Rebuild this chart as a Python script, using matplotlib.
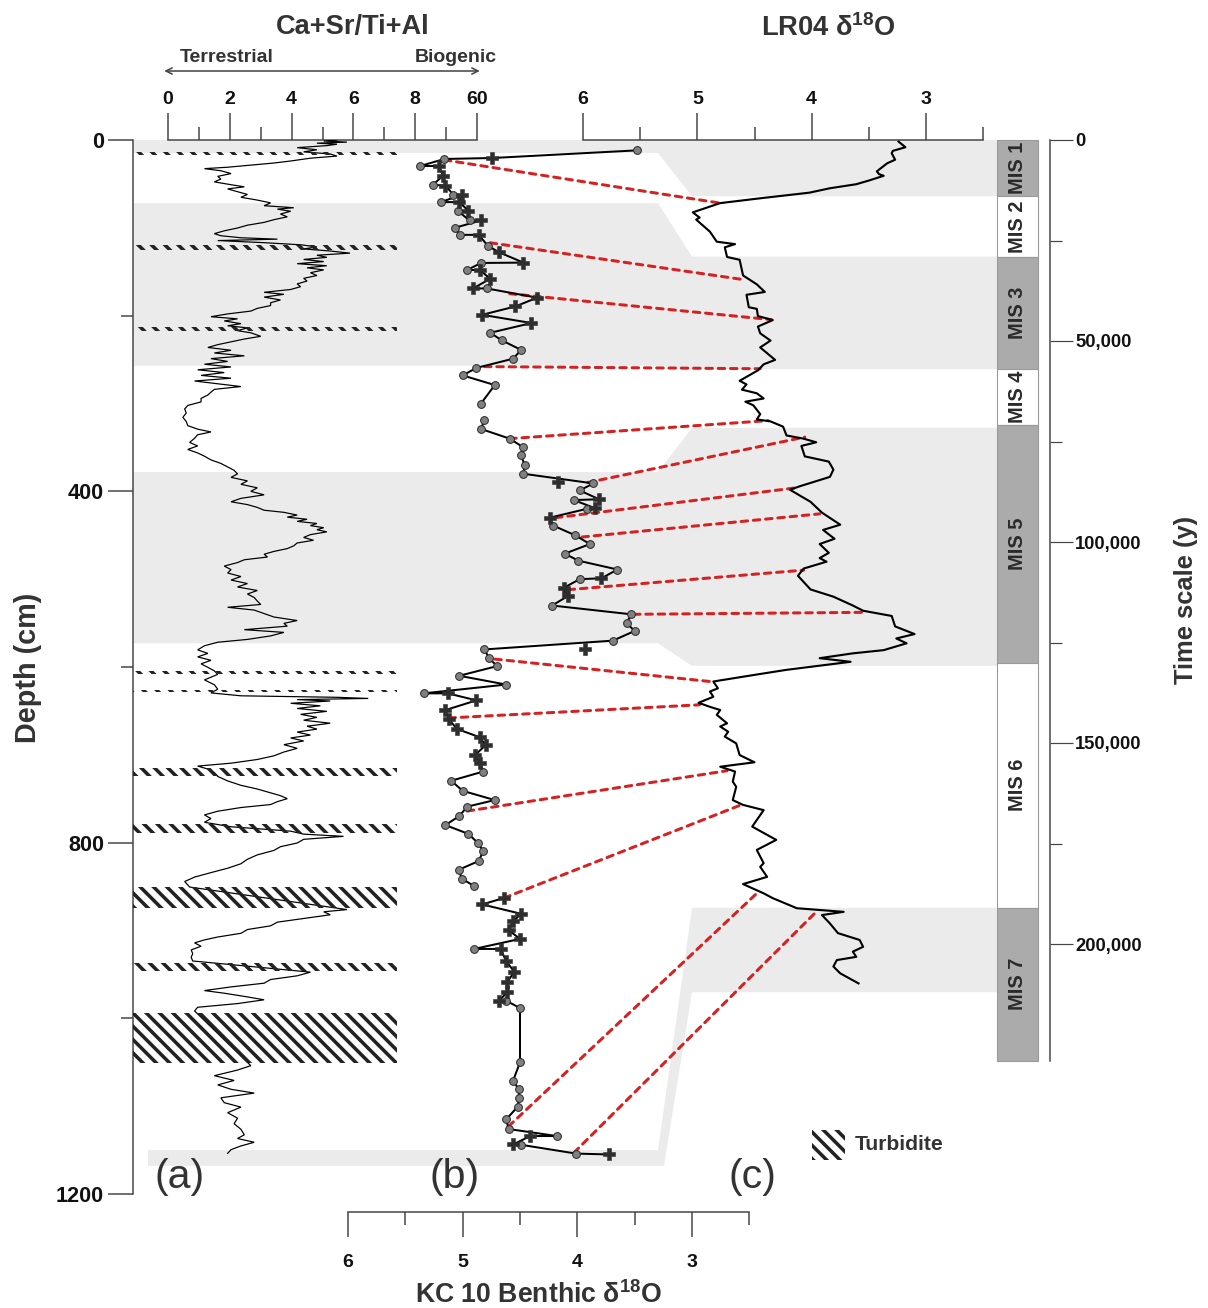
import numpy as np
import matplotlib
matplotlib.use('Agg')
import matplotlib.pyplot as plt
from matplotlib.patches import Polygon, Rectangle, ConnectionPatch, FancyArrowPatch
from matplotlib.transforms import blended_transform_factory

# ---------------- DATA ----------------
# (a) Ca+Sr/Ti+Al vs depth (cm)
ca_depth = [0, 1.2, 2.4, 3.6, 4.8, 6.4, 8.7, 11.1, 13.5, 15.9, 18.3, 20.7, 23.9, 26.2, 28.6, 31.0, 32.6,
            35.0, 38.2, 41.4, 44.5, 47.7, 50.9, 53.3, 55.7, 58.8, 62.0, 65.2, 68.4, 71.6, 74.8, 77.1, 78.7,
            81.1, 84.3, 87.5, 90.7, 93.8, 97.0, 100.2, 103.4, 106.6, 109.0, 111.3, 112.9, 114.5, 116.9,
            119.3, 121.7, 124.0, 126.4, 128.8, 131.2, 133.6, 136.0, 138.4, 140.8, 143.1, 145.5, 147.9,
            151.1, 154.3, 157.5, 160.6, 163.8, 167.0, 170.2, 173.4, 175.7, 178.9, 182.1, 185.3, 188.5,
            191.7, 194.8, 198.0, 201.2, 203.6, 206.0, 209.1, 211.5, 213.9, 217.1, 219.5, 223.5, 226.6,
            229.8, 233.0, 236.2, 239.4, 242.5, 245.7, 248.9, 252.1, 255.3, 258.4, 261.6, 264.8, 268.0,
            271.2, 274.4, 277.5, 280.7, 283.9, 287.1, 290.3, 294.2, 298.2, 302.2, 306.2, 310.9, 315.7,
            320.5, 325.2, 329.2, 332.4, 335.6, 339.6, 344.3, 348.3, 352.3, 356.3, 360.0, 364.2, 368.2,
            372.2, 376.1, 380.1, 384.1, 388.1, 392.0, 396.0, 400.0, 404.0, 408.0, 411.9, 415.1, 418.3,
            421.5, 423.9, 427.0, 429.4, 431.8, 434.2, 436.6, 439.0, 441.4, 443.7, 446.1, 449.3, 452.5,
            455.7, 458.8, 462.0, 465.2, 468.4, 471.6, 474.8, 477.9, 481.1, 485.1, 489.1, 493.0, 497.0,
            501.0, 505.0, 508.9, 512.9, 516.9, 520.9, 524.9, 528.8, 532.0, 535.2, 539.2, 543.1, 547.1,
            550.3, 553.5, 557.5, 560.6, 564.6, 568.6, 571.8, 575.8, 580.5, 584.5, 588.5, 592.4, 596.4,
            600.4, 604.4, 608.4, 614.7, 620.2, 625.3, 629.5, 632.8, 634.5, 635.8, 637.1, 638.7, 641.3,
            644.2, 647.2, 650.5, 653.9, 657.3, 660.6, 664.0, 667.4, 670.7, 674.1, 677.5, 680.8, 684.2,
            688.4, 692.6, 696.8, 701.1, 705.3, 709.5, 712.8, 716.2, 720.4, 724.6, 729.7, 734.7, 738.9,
            743.2, 746.5, 749.9, 753.3, 756.6, 760.0, 764.2, 768.4, 772.6, 776.8, 781.9, 786.9, 790.3,
            792.8, 796.2, 800.4, 804.6, 808.8, 813.9, 818.9, 824.0, 829.1, 834.1, 839.2, 844.2, 850.5,
            876.2, 878.7, 882.1, 886.3, 890.5, 894.7, 898.9, 903.2, 907.4, 910.7, 914.1, 917.9, 922.1,
            926.3, 930.5, 934.7, 947.4, 951.6, 955.8, 960.0, 964.2, 968.4, 971.4, 975.6, 978.9, 983.2,
            987.4, 991.6, 1053.9, 1058.9, 1065.3, 1070.7, 1075.8, 1080.8, 1085.1, 1090.5, 1096.0,
            1101.1, 1107.4, 1113.7, 1120.0, 1126.3, 1132.6, 1136.8, 1141.1, 1145.3, 1149.5, 1153.7]
ca_ratio = [5.47, 5.04, 5.79, 4.82, 5.47, 5.14, 4.18, 4.82, 4.39, 5.25, 5.47, 4.61, 3.97, 3.43, 2.68, 1.93, 1.18,
            1.71, 2.04, 1.61, 1.71, 1.50, 2.04, 2.47, 1.93, 2.25, 2.57, 2.36, 2.89, 3.32, 3.11, 4.07, 3.54,
            3.97, 3.64, 3.86, 3.43, 3.11, 2.57, 2.25, 1.82, 1.50, 1.71, 2.36, 3.54, 1.61, 3.11,
            4.29, 4.82, 4.39, 5.25, 5.89, 4.82, 5.14, 4.39, 5.04, 4.18, 5.14, 4.50, 5.04,
            4.61, 4.82, 4.39, 4.50, 4.18, 4.29, 3.97, 3.11, 3.75, 3.11, 3.64, 3.32, 3.32,
            2.89, 2.68, 1.93, 1.39, 2.25, 1.82, 2.36, 1.93, 2.57, 2.25, 2.68, 3.00, 2.47,
            2.04, 1.61, 1.29, 2.04, 1.50, 2.47, 1.39, 1.93, 1.18, 2.04, 0.96, 1.82, 1.07,
            2.04, 0.86, 1.61, 2.36, 1.50, 1.39, 1.29, 1.07, 1.07, 0.64, 0.54, 0.59, 0.48,
            0.59, 0.64, 0.96, 1.39, 0.96, 0.86, 0.70, 0.96, 0.64, 0.96, 1.18, 1.39, 1.71,
            1.93, 2.14, 2.25, 2.04, 2.57, 2.36, 2.89, 2.68, 3.11, 2.36, 2.04, 2.57, 2.89,
            3.11, 3.75, 4.18, 3.86, 4.50, 4.18, 4.82, 4.61, 5.04, 4.82, 5.14, 4.61, 4.39,
            4.71, 4.18, 4.07, 3.86, 3.43, 3.11, 3.22, 2.47, 2.25, 1.82, 2.04, 1.93, 2.36,
            2.04, 2.57, 2.25, 2.89, 2.57, 2.79, 2.89, 3.00, 1.93, 2.79, 3.11, 3.43, 4.18,
            3.75, 3.86, 2.47, 3.75, 3.32, 2.57, 1.61, 1.18, 0.96, 1.29, 0.96, 1.39, 1.07,
            1.29, 1.50, 1.61, 1.18, 1.50, 1.61, 1.39, 2.36, 5.47, 6.48, 4.18, 5.25, 3.97,
            4.93, 4.18, 5.14, 4.29, 4.82, 4.39, 5.25, 4.50, 4.82, 4.18, 4.61, 3.97, 4.39,
            3.75, 4.18, 3.75, 3.43, 2.89, 2.04, 0.96, 1.29, 1.50, 1.61, 1.93, 2.36, 2.89,
            3.32, 3.64, 3.86, 3.54, 3.32, 2.36, 1.61, 1.18, 1.39, 1.18, 2.04, 3.97, 4.39,
            5.68, 4.39, 4.18, 3.64, 3.43, 2.89, 2.57, 2.36, 1.93, 1.39, 0.86, 0.54, 0.70,
            5.79, 5.04, 5.25, 4.39, 3.54, 3.32, 2.57, 2.36, 1.61, 1.18, 0.86, 1.07, 0.75,
            0.80, 0.75, 0.80, 4.61, 4.18, 3.32, 3.11, 2.04, 1.18, 1.82, 2.57, 3.11, 2.25,
            0.96, 0.86, 2.68, 2.25, 1.50, 2.14, 1.61, 2.04, 2.79, 1.71, 1.82,
            2.36, 1.93, 2.25, 2.14, 2.36, 2.47, 2.25, 2.79, 2.36, 2.04, 1.93]

# turbidite layers (depth, cm)
turb_top = [14, 119, 213, 605, 626, 714.5, 779, 850, 937.5, 994]
turb_bot = [17, 125, 217, 607.5, 629, 724, 788.5, 874, 946, 1051]

# (b) KC 10 benthic d18O: depth, value, marker type (c circle / p plus / q isolated plus)
kc_depth = [11.8, 20.5, 21.6, 29.6, 29.6, 40.5, 51, 52, 62.5, 62.5, 70.7, 70.7, 80.5, 81, 91.6, 91.6,
            100, 108, 108, 120.5, 128, 139.6, 140, 148, 148, 158, 169, 169, 179.5, 189.5, 199, 208.4,
            219.5, 228, 239, 249, 259.5, 268, 279, 300,
            318.6, 329, 340, 350, 359, 370, 380, 389.5, 391, 399, 409, 410, 419, 420, 430, 439, 450,
            460, 471, 479, 489, 499, 500, 510, 519, 530, 540, 550, 559, 570, 579, 580, 590, 599, 610,
            620, 630, 630, 638, 649, 659.5, 670.5, 680, 689, 700, 709, 719, 729.5, 741, 751.5, 759,
            769.7, 780, 790, 800, 809.6, 820.9, 830.6, 840.8, 849.4,
            863, 870.3, 881, 889.6, 899.5, 909.6, 921, 921, 935, 947, 958.6, 969.8, 979.9, 980, 988.3,
            1050, 1071, 1081, 1091, 1100.6, 1115, 1126, 1134, 1134, 1143.6, 1144, 1154, 1155]
kc_d18o = [3.48, 4.74, 5.16, 5.37, 5.21, 5.17, 5.26, 5.15, 5.08, 5.01, 5.19, 5.03, 4.95, 5.04, 4.94, 4.84,
           5.07, 5.02, 4.86, 4.78, 4.68, 4.47, 4.84, 4.96, 4.85, 4.76, 4.91, 4.79, 4.35, 4.54, 4.83, 4.40,
           4.76, 4.66, 4.49, 4.56, 4.88, 5.00, 4.72, 4.84,
           4.81, 4.84, 4.59, 4.47, 4.49, 4.46, 4.47, 4.17, 3.86, 3.98, 3.81, 4.03, 3.85, 3.92, 4.24, 4.21, 4.02,
           3.89, 4.11, 3.99, 3.65, 3.79, 3.98, 4.12, 4.08, 4.22, 3.53, 3.57, 3.50, 3.69, 3.93, 4.81, 4.77, 4.70, 5.03,
           4.62, 5.34, 5.13, 4.88, 5.15, 5.12, 5.05, 4.85, 4.80, 4.89, 4.85, 4.82, 5.10, 5.00, 4.72, 4.96,
           5.03, 5.15, 4.95, 4.87, 4.82, 4.86, 5.03, 5.01, 4.90,
           4.64, 4.83, 4.49, 4.56, 4.60, 4.50, 4.90, 4.67, 4.62, 4.55, 4.61, 4.61, 4.68, 4.62, 4.50,
           4.50, 4.56, 4.51, 4.51, 4.52, 4.62, 4.60, 4.18, 4.41, 4.56, 4.49, 4.01, 3.72]
kc_type = ['c', 'p', 'c', 'c', 'p', 'p', 'c', 'p', 'c', 'p', 'c', 'p', 'p', 'c', 'c', 'p',
           'c', 'c', 'p', 'c', 'p', 'p', 'c', 'c', 'p', 'p', 'p', 'c', 'p', 'p', 'p', 'p',
           'c', 'c', 'c', 'c', 'c', 'c', 'c', 'c',
           'c', 'c', 'c', 'c', 'c', 'c', 'c', 'q', 'c', 'c', 'p', 'c', 'p', 'c', 'p', 'c', 'c',
           'c', 'c', 'c', 'c', 'p', 'c', 'p', 'p', 'c', 'c', 'c', 'c', 'c', 'q', 'c', 'c', 'c', 'c',
           'c', 'c', 'p', 'p', 'p', 'p', 'p', 'p', 'p', 'p', 'p', 'c', 'c', 'c', 'c', 'c',
           'c', 'c', 'c', 'c', 'c', 'c', 'c', 'c', 'c',
           'p', 'p', 'p', 'p', 'p', 'p', 'c', 'p', 'p', 'p', 'p', 'p', 'p', 'c', 'c',
           'c', 'c', 'c', 'c', 'c', 'c', 'c', 'c', 'p', 'p', 'c', 'c', 'p']
kc_gap_after = [300, 849.4]   # line breaks (missing samples)

# (c) LR04 stack: age (kyr) and d18O
lr_age = [0.4, 1.8, 2.7, 3.3, 4.9, 5.8, 7.8, 8.5, 8.9, 10.0, 11.0, 12.0, 13.1, 14.5, 15.7, 18.0, 19.3, 19.8,
          22.8, 25.3, 25.9, 26.7, 29.1, 29.8, 33.7, 35.9, 37.8, 38.5, 41.6, 42.0, 43.8, 44.8, 46.4, 48.1,
          49.9, 51.6, 54.7, 55.8, 57.3, 59.9, 60.8, 62.1, 63.0, 64.3, 65.1, 66.0, 68.2, 69.5, 70.0, 71.3,
          73.5, 74.3, 75.2, 76.1, 78.7, 80.0, 82.0, 83.8, 86.1, 87.0, 90.0, 92.7, 95.7, 97.0, 99.2, 100.5,
          102.7, 104.0, 104.9, 106.6, 108.4, 111.8, 113.6, 115.8, 117.1, 118.4, 121.0, 122.9, 124.0, 125.2,
          126.9, 127.7, 128.9, 129.8, 131.8, 133.1, 134.7, 136.4, 137.2, 138.5, 140.0, 141.0, 141.8, 143.0,
          145.1, 145.9, 147.2, 148.4, 150.1, 153.0, 154.8, 155.9, 157.1, 159.6, 160.9, 164.2, 165.4, 166.7,
          170.8, 174.1, 176.6, 179.9, 180.8, 183.3, 185.1, 187.4, 188.6, 191.1, 192.0, 192.8, 194.9, 197.3,
          199.0, 200.7, 201.9, 203.2, 204.0, 205.6, 207.3, 209.8]
lr_d18o = [3.24, 3.18, 3.29, 3.30, 3.27, 3.34, 3.43, 3.41, 3.37, 3.49, 3.61, 3.84, 4.02, 4.45, 4.80, 5.04, 4.98, 5.01,
           4.89, 4.83, 4.67, 4.76, 4.74, 4.63, 4.60, 4.48, 4.41, 4.57, 4.55, 4.48, 4.47, 4.34, 4.47, 4.45,
           4.36, 4.45, 4.32, 4.42, 4.47, 4.63, 4.57, 4.61, 4.48, 4.42, 4.58, 4.51, 4.45, 4.48, 4.36, 4.25,
           4.22, 4.07, 3.96, 4.09, 4.06, 3.85, 3.81, 3.84, 4.10, 4.19, 4.01, 3.91, 3.75, 3.90, 3.80, 3.93,
           3.85, 3.93, 3.87, 4.07, 4.12, 4.01, 3.81, 3.64, 3.55, 3.30, 3.27, 3.10, 3.26, 3.17,
           3.37, 3.64, 3.93, 3.66, 4.22, 4.51, 4.86, 4.82, 4.89, 4.86, 4.99, 4.89, 4.80, 4.83,
           4.74, 4.80, 4.73, 4.76, 4.66, 4.63, 4.50, 4.80, 4.67, 4.69, 4.66, 4.69, 4.60, 4.42,
           4.52, 4.31, 4.48, 4.42, 4.45, 4.39, 4.60, 4.42, 4.34, 4.13, 3.72, 3.91, 3.84, 3.77,
           3.58, 3.55, 3.64, 3.61, 3.78, 3.81, 3.75, 3.59]

# tie points: KC10 (depth, d18O) -> LR04 (age kyr, d18O)
tie_kc_depth = [22.7, 117, 175, 258, 340, 390, 430, 452, 512, 540, 591, 658, 764, 863, 1123, 1153]
tie_kc_d18o = [5.16, 4.76, 4.59, 4.81, 4.59, 3.91, 4.19, 3.96, 4.08, 3.51, 4.72, 5.12, 4.96, 4.64, 4.60, 4.03]
tie_lr_age = [15.7, 34.8, 44.7, 56.9, 69.8, 73.9, 86.5, 93.0, 107.0, 117.5, 134.7, 140.5, 156.9, 165.2, 187.4, 192.0]
tie_lr_d18o = [4.80, 4.58, 4.35, 4.45, 4.38, 4.06, 4.13, 3.93, 4.07, 3.55, 4.89, 4.98, 4.74, 4.60, 4.48, 3.96]

# Marine isotope stages (kyr boundaries)
mis_names = ['MIS 1', 'MIS 2', 'MIS 3', 'MIS 4', 'MIS 5', 'MIS 6', 'MIS 7']
mis_bounds = [0, 14, 29, 57, 71, 130, 191, 229]
# shaded correlation bands: depth range in core, age range in LR04
band_depth = [(0, 14.8), (72, 257), (378, 573), (1150, 1168)]
band_age = [(0, 14), (29, 57), (71.6, 130.8), (191, 212)]

ca_ticks = [0, 2, 4, 6, 8, 10]
ca_ticklabels = ['0', '2', '4', '6', '8', '60']
d18o_ticks = [6, 5, 4, 3]
depth_ticks = [0, 400, 800, 1200]
age_ticks = [0, 50000, 100000, 150000, 200000]
age_ticklabels = ['0', '50,000', '100,000', '150,000', '200,000']

# ---------------- STYLE / LAYOUT ----------------
plt.rcParams['font.family'] = ['Liberation Sans', 'DejaVu Sans']
plt.rcParams['font.weight'] = 'bold'
plt.rcParams['mathtext.fontset'] = 'custom'
plt.rcParams['mathtext.rm'] = 'Liberation Sans:bold'
plt.rcParams['mathtext.it'] = 'Liberation Sans:bold'
plt.rcParams['mathtext.bf'] = 'Liberation Sans:bold'
plt.rcParams['hatch.linewidth'] = 3.2
plt.rcParams['hatch.color'] = '#222222'
HATCH = '\\\\'

DPI = 80
W, H = 1208, 1308
fig = plt.figure(figsize=(W / DPI, H / DPI), dpi=DPI)


def pt(px):
    return px * 72.0 / DPI


def fx(x):
    return x / W


def fy(y):
    return 1 - y / H


X0, X1, Y0, Y1 = 133, 997, 140, 1194
rect = [X0 / W, 1 - Y1 / H, (X1 - X0) / W, (Y1 - Y0) / H]
AX_W = X1 - X0
SPINE = '#444444'
TXT = '#333333'

axA = fig.add_axes(rect)
axB = fig.add_axes(rect)
axC = fig.add_axes(rect)
for a in (axA, axB, axC):
    a.set_facecolor('none')
    for s in a.spines.values():
        s.set_visible(False)
        s.set_color(SPINE)
        s.set_linewidth(pt(1.5))

# x-scale mappings (pixel anchors of the printed axes)
ca_px = (168, 477)        # value 0 and 10
axA.set_xlim((X0 - ca_px[0]) / (ca_px[1] - ca_px[0]) * 10, (X1 - ca_px[0]) / (ca_px[1] - ca_px[0]) * 10)
kc_pu = (692 - 348) / 3.0
axB.set_xlim(6 + (348 - X0) / kc_pu, 6 - (X1 - 348) / kc_pu)
lr_pu = (926 - 583) / 3.0
axC.set_xlim(6 + (583 - X0) / lr_pu, 6 - (X1 - 583) / lr_pu)
axA.set_ylim(1200, 0)
axB.set_ylim(1200, 0)
age_px_per_yr = (944 - 140) / 200000.0
axC.set_ylim((Y1 - Y0) / age_px_per_yr, 0)

# --- axis A: depth (left) and Ca ratio (top)
axA.spines['left'].set_visible(True)
axA.spines['top'].set_visible(True)
axA.spines['top'].set_bounds(0, 10)
axA.xaxis.set_ticks_position('top')
axA.set_xticks(ca_ticks)
axA.set_xticklabels(ca_ticklabels)
axA.set_xticks([1, 3, 5, 7, 9], minor=True)
axA.tick_params(axis='x', which='major', direction='out', length=pt(27), width=pt(1.5), color=SPINE,
                labelsize=17.5, pad=pt(5), labelcolor='#111111')
axA.tick_params(axis='x', which='minor', direction='out', length=pt(13), width=pt(1.5), color=SPINE)
axA.set_yticks(depth_ticks)
axA.set_yticklabels([str(d) for d in depth_ticks])
axA.set_yticks([200, 600, 1000], minor=True)
axA.tick_params(axis='y', which='major', direction='out', length=pt(25), width=pt(1.5), color=SPINE,
                labelsize=19.5, pad=pt(4), labelcolor='#111111')
axA.tick_params(axis='y', which='minor', direction='out', length=pt(12), width=pt(1.5), color=SPINE)

# --- axis B: KC10 bottom
axB.spines['bottom'].set_visible(True)
axB.spines['bottom'].set_position(('outward', pt(18)))
axB.spines['bottom'].set_bounds(2.5, 6)
axB.set_xticks(d18o_ticks)
axB.set_xticklabels([str(t) for t in d18o_ticks])
axB.set_xticks([5.5, 4.5, 3.5, 2.5], minor=True)
axB.tick_params(axis='x', which='major', direction='out', length=pt(25), width=pt(1.5), color=SPINE,
                labelsize=17.5, pad=pt(17), labelcolor='#111111')
axB.tick_params(axis='x', which='minor', direction='out', length=pt(13), width=pt(1.5), color=SPINE)
axB.tick_params(axis='y', left=False, labelleft=False)

# --- axis C: LR04 top, age right
axC.spines['top'].set_visible(True)
axC.spines['top'].set_bounds(2.5, 6)
axC.spines['right'].set_visible(True)
axC.spines['right'].set_position(('outward', pt(1050 - X1)))
axC.spines['right'].set_bounds(0, mis_bounds[-1] * 1000)
axC.xaxis.set_ticks_position('top')
axC.set_xticks(d18o_ticks)
axC.set_xticklabels([str(t) for t in d18o_ticks])
axC.set_xticks([5.5, 4.5, 3.5, 2.5], minor=True)
axC.tick_params(axis='x', which='major', direction='out', length=pt(27), width=pt(1.5), color=SPINE,
                labelsize=17.5, pad=pt(5), labelcolor='#111111')
axC.tick_params(axis='x', which='minor', direction='out', length=pt(13), width=pt(1.5), color=SPINE)
axC.yaxis.set_ticks_position('right')
axC.set_yticks(age_ticks)
axC.set_yticklabels(age_ticklabels)
axC.set_yticks([25000, 75000, 125000, 175000], minor=True)
axC.tick_params(axis='y', which='major', direction='out', length=pt(23), width=pt(1.2), color=SPINE,
                labelsize=16.5, pad=pt(2), labelcolor='#111111')
axC.tick_params(axis='y', which='minor', direction='out', length=pt(12), width=pt(1.2), color=SPINE)

# ---------------- shaded correlation bands ----------------
trA = blended_transform_factory(axA.transAxes, axA.transData)
trC = blended_transform_factory(axC.transAxes, axC.transData)
inv = fig.transFigure.inverted()
xL = (658 - X0) / AX_W
xR = (692 - X0) / AX_W
for i, ((d0, d1), (t0, t1)) in enumerate(zip(band_depth, band_age)):
    xs = 0.0 if i < 3 else (148 - X0) / AX_W
    xLb = xL if i < 3 else (664 - X0) / AX_W
    pts = [trA.transform((xs, d0)), trA.transform((xL, d0)), trC.transform((xR, t0 * 1000)),
           trC.transform((1.0, t0 * 1000)), trC.transform((1.0, t1 * 1000)), trC.transform((xR, t1 * 1000)),
           trA.transform((xLb, d1)), trA.transform((xs, d1))]
    pts = inv.transform(np.array(pts))
    axA.add_patch(Polygon(pts, closed=True, transform=fig.transFigure, facecolor='#ebebeb',
                          edgecolor='none', zorder=0.5, clip_on=False))

# ---------------- (a) Ca ratio ----------------
axA.plot(ca_ratio, ca_depth, color='black', lw=1.1, zorder=3, solid_joinstyle='miter')
turb_x1 = (397 - X0) / AX_W
for t0, t1 in zip(turb_top, turb_bot):
    axA.add_patch(Rectangle((0, t0), turb_x1, t1 - t0, transform=trA, facecolor='none',
                            edgecolor='#222222', linewidth=0, hatch=HATCH, zorder=4))

# ---------------- tie lines ----------------
for kd, kv, la, lv in zip(tie_kc_depth, tie_kc_d18o, tie_lr_age, tie_lr_d18o):
    cp = ConnectionPatch(xyA=(kv, kd), coordsA=axB.transData, xyB=(lv, la * 1000), coordsB=axC.transData,
                         color='#d42222', lw=2.7, linestyle=(0, (2.2, 1.9)), zorder=2)
    cp.set_clip_on(False)
    axB.add_artist(cp)

# ---------------- (b) KC10 ----------------
kd = np.array(kc_depth)
kv = np.array(kc_d18o)
kt = np.array(kc_type)
on_line = kt != 'q'
ld, lv = kd[on_line], kv[on_line]
edges = [-np.inf] + kc_gap_after + [np.inf]
for e0, e1 in zip(edges[:-1], edges[1:]):
    m = (ld > e0) & (ld <= e1)
    axB.plot(lv[m], ld[m], color='black', lw=1.8, zorder=3)
mc = kt == 'c'
axB.plot(kv[mc], kd[mc], linestyle='none', marker='o', ms=7, mfc='#808080', mec='#2a2a2a', mew=0.9, zorder=5)
mp = (kt == 'p') | (kt == 'q')
axB.plot(kv[mp], kd[mp], linestyle='none', marker='P', ms=11, mfc='#2e2e2e', mec='#2e2e2e', mew=0.5, zorder=5)

# ---------------- (c) LR04 ----------------
axC.plot(lr_d18o, np.array(lr_age) * 1000, color='black', lw=1.9, zorder=3)

# MIS bar
bar_w = (1038 - X1) / AX_W
for i, name in enumerate(mis_names):
    t0, t1 = mis_bounds[i] * 1000, mis_bounds[i + 1] * 1000
    fc = '#ababab' if i % 2 == 0 else 'white'
    axC.add_patch(Rectangle((1.0, t0), bar_w, t1 - t0, transform=trC, facecolor=fc, edgecolor='#9a9a9a',
                            lw=1.0, clip_on=False, zorder=2))
    axC.text(1.0 + bar_w / 2, (t0 + t1) / 2, name, transform=trC, rotation=90, ha='center', va='center',
             fontsize=18, color='#2a2a2a', clip_on=False, zorder=3)

# ---------------- texts ----------------
fig.text(fx(353), fy(27), 'Ca+Sr/Ti+Al', ha='center', va='center', fontsize=24.5, color=TXT)
fig.text(fx(180), fy(58), 'Terrestrial', ha='left', va='center', fontsize=17.5, color=TXT)
fig.text(fx(497), fy(57), 'Biogenic', ha='right', va='center', fontsize=17.5, color=TXT)
fig.add_artist(FancyArrowPatch((fx(162), fy(71)), (fx(482), fy(71)), transform=fig.transFigure,
                               arrowstyle='<->', mutation_scale=14, lw=1.4, color='#444444'))
fig.text(fx(828), fy(28), r'LR04 δ$^{18}$O', ha='center', va='center', fontsize=24.5, color=TXT)
fig.text(fx(539), fy(1295), r'KC 10 Benthic δ$^{18}$O', ha='center', va='center', fontsize=24, color=TXT)
fig.text(fx(28), fy(668), 'Depth (cm)', ha='center', va='center', rotation=90, fontsize=26, color=TXT)
fig.text(fx(1186), fy(600), 'Time scale (y)', ha='center', va='center', rotation=90, fontsize=23, color=TXT)
for lab, x in [('(a)', 180), ('(b)', 455), ('(c)', 752)]:
    fig.text(fx(x), fy(1177), lab, ha='center', va='center', fontsize=37, fontweight='normal', color=TXT)

# turbidite legend
fig.add_artist(Rectangle((fx(812), fy(1160)), (845 - 812) / W, (1160 - 1130) / H, transform=fig.transFigure,
                         facecolor='none', edgecolor='#222222', linewidth=0, hatch=HATCH))
fig.text(fx(855), fy(1145), 'Turbidite', ha='left', va='center', fontsize=19, color=TXT)

fig.savefig('out.png', dpi=DPI)
